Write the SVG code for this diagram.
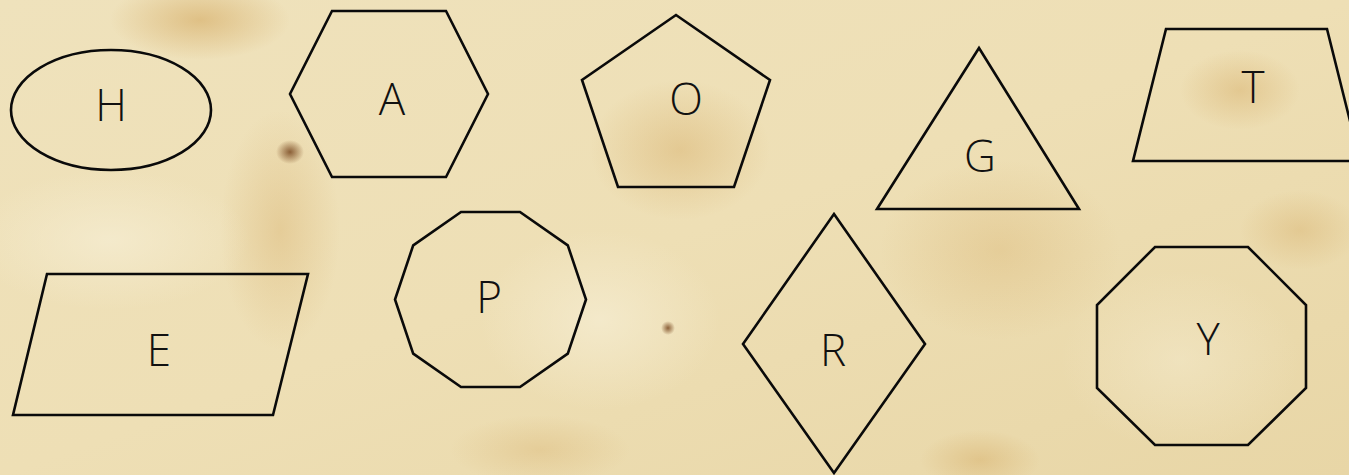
<svg xmlns="http://www.w3.org/2000/svg" width="1349" height="475" viewBox="0 0 1349 475">
<style>
.s{fill:none;stroke:#0a0a0a;stroke-width:2.6;stroke-linejoin:miter}
.t{font-family:"Open Sans","Liberation Sans",sans-serif;font-size:44px;font-weight:300;fill:#111;text-anchor:middle}
</style>
<defs>
<radialGradient id="spot" cx="0.5" cy="0.5" r="0.5">
<stop offset="0" stop-color="#d2a55a" stop-opacity="0.55"/>
<stop offset="1" stop-color="#d2a55a" stop-opacity="0"/>
</radialGradient>
<radialGradient id="light" cx="0.5" cy="0.5" r="0.5">
<stop offset="0" stop-color="#f5ecd0" stop-opacity="0.8"/>
<stop offset="1" stop-color="#f5ecd0" stop-opacity="0"/>
</radialGradient>
<radialGradient id="dark" cx="0.5" cy="0.5" r="0.5">
<stop offset="0" stop-color="#7a4a22" stop-opacity="0.85"/>
<stop offset="1" stop-color="#7a4a22" stop-opacity="0"/>
</radialGradient>
<linearGradient id="bg" x1="0" y1="0" x2="1" y2="1">
<stop offset="0" stop-color="#efe2bc"/>
<stop offset="0.5" stop-color="#eedfb5"/>
<stop offset="1" stop-color="#e8d6a6"/>
</linearGradient>
</defs>
<g id="background">
<rect width="1349" height="475" fill="url(#bg)"/>
<ellipse cx="200" cy="20" rx="90" ry="40" fill="url(#spot)"/>
<ellipse cx="280" cy="230" rx="60" ry="120" fill="url(#spot)" opacity="0.6"/>
<ellipse cx="680" cy="150" rx="90" ry="70" fill="url(#spot)" opacity="0.7"/>
<ellipse cx="1000" cy="250" rx="120" ry="90" fill="url(#spot)" opacity="0.5"/>
<ellipse cx="1240" cy="90" rx="60" ry="40" fill="url(#spot)" opacity="0.7"/>
<ellipse cx="980" cy="460" rx="60" ry="30" fill="url(#spot)" opacity="0.7"/>
<ellipse cx="1300" cy="230" rx="60" ry="40" fill="url(#spot)" opacity="0.6"/>
<ellipse cx="540" cy="450" rx="90" ry="35" fill="url(#spot)" opacity="0.5"/>
<ellipse cx="600" cy="320" rx="120" ry="90" fill="url(#light)"/>
<ellipse cx="110" cy="240" rx="140" ry="70" fill="url(#light)"/>
<ellipse cx="1180" cy="360" rx="120" ry="90" fill="url(#light)" opacity="0.6"/>
<ellipse cx="290" cy="152" rx="14" ry="12" fill="url(#dark)"/>
<ellipse cx="668" cy="328" rx="7" ry="7" fill="url(#dark)"/>
</g>
<g id="connectors"/>
<g id="node-H">
<ellipse class="s" cx="111" cy="110" rx="100" ry="60"/>
<text class="t" x="111" y="121" font-size="50">H</text>
</g>
<g id="node-A">
<polygon class="s" points="332,11 446,11 488,94 446,177 332,177 290,94"/>
<text class="t" x="392" y="115">A</text>
</g>
<g id="node-O">
<polygon class="s" points="676,15 770,80 734,187 618,187 582,80"/>
<text class="t" x="686" y="115">O</text>
</g>
<g id="node-G">
<polygon class="s" points="979,48 1079,209 877,209"/>
<text class="t" x="980" y="172" font-size="52">G</text>
</g>
<g id="node-T">
<polygon class="s" points="1166,29 1327,29 1360,161 1133,161"/>
<text class="t" x="1253" y="103">T</text>
</g>
<g id="node-E">
<polygon class="s" points="47,274 308,274 273,415 13,415"/>
<text class="t" x="159" y="366">E</text>
</g>
<g id="node-P">
<polygon class="s" points="586,299.5 567.8,353.6 520,387 461,387 413.2,353.6 395,299.5 413.2,245.4 461,212 520,212 567.8,245.4"/>
<text class="t" x="489" y="313">P</text>
</g>
<g id="node-R">
<polygon class="s" points="834,214 925,344 834,473 743,344"/>
<text class="t" x="833" y="366">R</text>
</g>
<g id="node-Y">
<polygon class="s" points="1155,247 1248,247 1306,305 1306,388 1248,445 1155,445 1097,388 1097,305"/>
<text class="t" x="1208" y="355">Y</text>
</g>
</svg>
